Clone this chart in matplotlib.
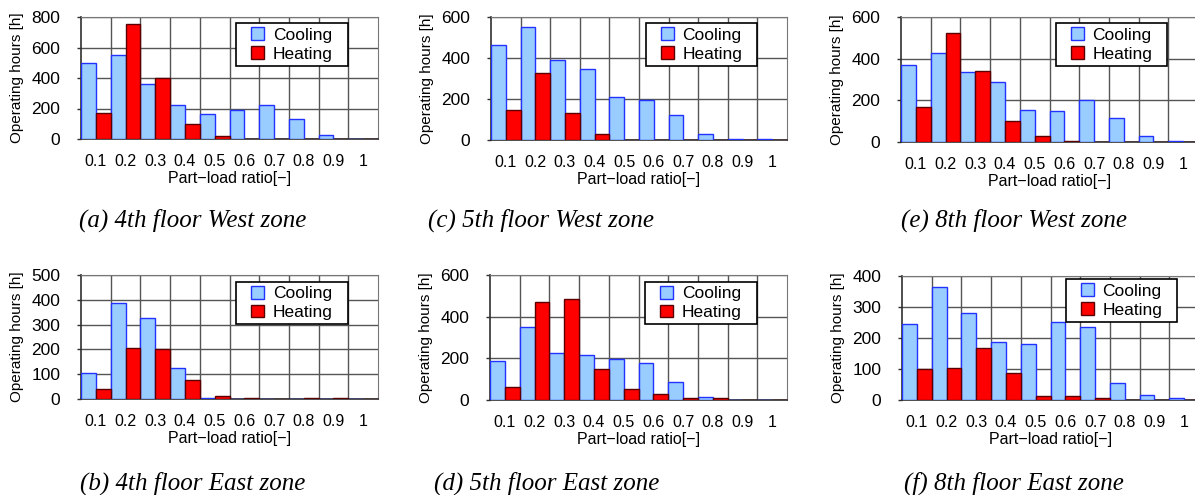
#!/usr/bin/env python3
"""Part-load ratio histograms of operating hours for six zones."""

import matplotlib
matplotlib.use("Agg")
import matplotlib.pyplot as plt
from matplotlib.patches import Rectangle
import numpy as np

# part-load ratio bins
ratios = ["0.1", "0.2", "0.3", "0.4", "0.5", "0.6", "0.7", "0.8", "0.9", "1"]

# operating hours [h]
cool_4w = [500, 548, 360, 222, 163, 192, 222, 133, 26, 0]
heat_4w = [172, 757, 398, 98, 20, 0, 0, 0, 0, 0]
cool_4e = [105, 389, 327, 125, 5, 0, 0, 0, 0, 0]
heat_4e = [40, 205, 201, 75, 12, 5, 0, 5, 5, 0]
cool_5w = [465, 549, 392, 344, 211, 195, 120, 28, 5, 5]
heat_5w = [144, 326, 131, 28, 0, 0, 0, 0, 0, 0]
cool_5e = [185, 349, 227, 215, 196, 178, 88, 13, 0, 0]
heat_5e = [64, 469, 486, 148, 51, 27, 11, 11, 0, 0]
cool_8w = [371, 427, 336, 290, 155, 149, 200, 114, 30, 6]
heat_8w = [168, 523, 341, 102, 30, 6, 1, 0, 0, 0]
cool_8e = [246, 366, 282, 186, 182, 253, 234, 56, 16, 5]
heat_8e = [99, 103, 167, 88, 13, 13, 5, 0, 0, 0]

captions = [
    "(a) 4th floor West zone", "(b) 4th floor East zone",
    "(c) 5th floor West zone", "(d) 5th floor East zone",
    "(e) 8th floor West zone", "(f) 8th floor East zone",
]

W, H = 1195, 495
SANS = ["Liberation Sans", "DejaVu Sans"]


def _rect(left, right, top, bottom):
    return [left / W, 1 - bottom / H, (right - left) / W, (bottom - top) / H]


def _panel(fig, rect, cool, heat, ymax, step, frame, caption, cap_xy):
    ax = fig.add_axes(_rect(*rect))
    x = np.arange(len(ratios))
    ax.bar(x - 0.25, cool, width=0.5, color="#99CCFF", edgecolor="#2233FF",
           linewidth=1.0, label="Cooling", zorder=3)
    ax.bar(x + 0.25, heat, width=0.5, color="#FF0000", edgecolor="#5A0000",
           linewidth=1.0, label="Heating", zorder=3)
    ax.set_xlim(-0.5, len(ratios) - 0.5)
    ax.set_ylim(0, ymax)
    ax.set_yticks(np.arange(0, ymax + 1, step))
    ax.set_xticks(x)
    ax.set_xticklabels(ratios, fontsize=11.5, family=SANS)
    ax.set_xticks(x[:-1] + 0.5, minor=True)
    ax.tick_params(axis="x", which="both", length=0, pad=11)
    ax.tick_params(axis="y", length=3, width=1, pad=12, labelsize=12.5,
                   color="#303030")
    for lbl in ax.get_yticklabels():
        lbl.set_family(SANS)
    ax.grid(True, which="major", axis="y", color="#555555", linewidth=1, zorder=0)
    ax.grid(True, which="minor", axis="x", color="#555555", linewidth=1, zorder=0)
    for side in ("top", "right"):
        ax.spines[side].set_color("#777777")
    for side in ("left", "bottom"):
        ax.spines[side].set_color("#303030")
        ax.spines[side].set_linewidth(1.2)
    ax.set_ylabel("Operating hours [h]", fontsize=11, family=SANS, labelpad=5)
    ax.set_xlabel("Part\u2212load ratio[\u2212]", fontsize=11.5, family=SANS, labelpad=1)

    # legend box: white frame drawn separately, entries centred inside it
    x0, x1, y0, y1 = frame
    ax.add_patch(Rectangle((x0, y0), x1 - x0, y1 - y0, transform=ax.transAxes,
                           facecolor="white", edgecolor="black", linewidth=1.2,
                           zorder=4, clip_on=False))
    leg = ax.legend(loc="center", bbox_to_anchor=((x0 + x1) / 2, (y0 + y1) / 2),
                    frameon=False, borderpad=0, prop={"family": SANS, "size": 12.5},
                    handlelength=0.75, handleheight=0.75, handletextpad=0.5,
                    labelspacing=0.2)
    leg.set_zorder(5)
    fig.text(cap_xy[0] / W, 1 - cap_xy[1] / H, caption, ha="center", va="center",
             fontsize=18, style="italic", family="Liberation Serif")
    return ax


def main():
    fig = plt.figure(figsize=(W / 100, H / 100), dpi=100)
    _panel(fig, (81, 378, 17, 139), cool_4w, heat_4w, 800, 200,
           (0.522, 0.899, 0.598, 0.951), captions[0], (193, 220))
    _panel(fig, (81, 378, 275, 399), cool_4e, heat_4e, 500, 100,
           (0.522, 0.899, 0.605, 0.944), captions[1], (193, 483))
    _panel(fig, (491, 787, 17, 140), cool_5w, heat_5w, 600, 200,
           (0.524, 0.899, 0.602, 0.951), captions[2], (541, 220))
    _panel(fig, (490, 787, 275, 400), cool_5e, heat_5e, 600, 200,
           (0.522, 0.899, 0.608, 0.944), captions[3], (547, 483))
    _panel(fig, (901, 1198, 17, 142), cool_8w, heat_8w, 600, 200,
           (0.522, 0.896, 0.608, 0.952), captions[4], (1014, 220))
    _panel(fig, (902, 1199, 276, 400), cool_8e, heat_8e, 400, 100,
           (0.552, 0.926, 0.629, 0.976), captions[5], (1014, 483))
    fig.savefig("out.png", dpi=100)
    plt.close(fig)


if __name__ == "__main__":
    main()
